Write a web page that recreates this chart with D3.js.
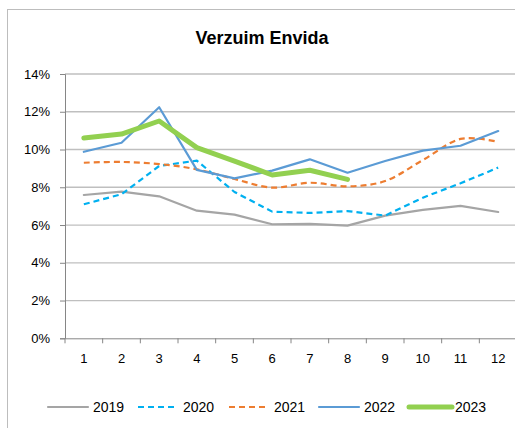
<!DOCTYPE html>
<html>
<head>
<meta charset="utf-8">
<script src="https://cdn.jsdelivr.net/npm/d3@7"></script>
<style>
  body { margin: 0; background: #fff; }
  text { font-family: "Liberation Sans", Arial, sans-serif; fill: #000; }
</style>
</head>
<body>
<svg id="chart" width="515" height="428"></svg>
<script>
// months on the x axis
var months = [1, 2, 3, 4, 5, 6, 7, 8, 9, 10, 11, 12];
var yTicks = [0, 0.02, 0.04, 0.06, 0.08, 0.10, 0.12, 0.14];

var v2019 = [0.0759, 0.0777, 0.0752, 0.0676, 0.0655, 0.0604, 0.0606, 0.0597, 0.0650, 0.0680, 0.0701, 0.0669];
var v2020 = [0.0710, 0.0763, 0.0913, 0.0941, 0.0775, 0.0671, 0.0664, 0.0674, 0.0650, 0.0745, 0.0821, 0.0904];
var v2021 = [0.0930, 0.0934, 0.0923, 0.0895, 0.0844, 0.0798, 0.0824, 0.0805, 0.0833, 0.0944, 0.1056, 0.1040];
var v2022 = [0.0988, 0.1036, 0.1224, 0.0892, 0.0847, 0.0888, 0.0948, 0.0877, 0.0939, 0.0994, 0.1020, 0.1098];
var v2023 = [0.1061, 0.1082, 0.1151, 0.1010, 0.0939, 0.0865, 0.0890, 0.0842];

var seriesNames = ["2019", "2020", "2021", "2022", "2023"];

function Chart() {
    var svg = d3.select("#chart");
    var left = 65, top = 74, right = 517, bottom = 338.3;

    this.x = d3.scaleBand().domain(months).range([left, right]);
    this.y = d3.scaleLinear().domain([0, 0.14]).range([bottom, top]);

    this.drawFrame = function() {
        svg.append("rect")
          .attr("x", 7.5).attr("y", 9.5)
          .attr("width", 600).attr("height", 600)
          .style("fill", "none")
          .style("stroke", "#bdbdbd");

        svg.append("text")
          .attr("x", 262).attr("y", 43.5)
          .attr("text-anchor", "middle")
          .style("font-size", "18px")
          .style("font-weight", "bold")
          .text("Verzuim Envida");
    };

    this.drawAxes = function() {
        var x = this.x, y = this.y;
        var grid = svg.append("g");
        grid.selectAll("line")
          .data(yTicks.slice(1))
          .enter().append("line")
          .attr("x1", left).attr("x2", 515)
          .attr("y1", function(d) { return y(d); })
          .attr("y2", function(d) { return y(d); })
          .style("stroke", "#bfbfbf")
          .style("stroke-width", 1.3);

        var yAxis = svg.append("g")
          .attr("transform", "translate(" + left + ",0)")
          .call(d3.axisLeft(y).tickValues(yTicks).tickSize(5).tickPadding(10)
                .tickFormat(d3.format(".0%")));
        yAxis.select(".domain").style("stroke", "#868686");
        yAxis.selectAll(".tick line").style("stroke", "#868686");
        yAxis.selectAll("text").style("font-size", "13px");

        var xAxis = svg.append("g")
          .attr("transform", "translate(0," + bottom + ")")
          .call(d3.axisBottom(x).tickSize(0).tickPadding(15));
        xAxis.select(".domain").style("stroke", "#868686");
        xAxis.selectAll("text").style("font-size", "13px");

        // tick marks between the categories
        var edges = months.map(function(m) { return x(m); }).concat([right]);
        svg.append("g").selectAll("line")
          .data(edges)
          .enter().append("line")
          .attr("x1", function(d) { return d; })
          .attr("x2", function(d) { return d; })
          .attr("y1", bottom).attr("y2", bottom + 5)
          .style("stroke", "#868686");
    };

    this.addSeries = function(values, color, width, dash, curve) {
        var x = this.x, y = this.y;
        var line = d3.line()
          .x(function(d, i) { return x(months[i]) + x.bandwidth() / 2; })
          .y(function(d) { return y(d); })
          .curve(curve || d3.curveLinear);
        svg.append("path")
          .datum(values)
          .attr("d", line)
          .style("fill", "none")
          .style("stroke", color)
          .style("stroke-width", width)
          .style("stroke-dasharray", dash)
          .style("stroke-linejoin", "round")
          .style("stroke-linecap", dash ? "butt" : "round");
    };

    this.addLegend = function(items) {
        var lx = [48, 138, 229, 319, 409];
        var ly = 407;
        items.forEach(function(it, i) {
            svg.append("line")
              .attr("x1", lx[i]).attr("x2", lx[i] + (i == 4 ? 43 : 40))
              .attr("y1", ly).attr("y2", ly)
              .style("stroke", it.color)
              .style("stroke-width", it.width)
              .style("stroke-dasharray", it.dash)
              .style("stroke-linecap", it.dash ? "butt" : "round");
            svg.append("text")
              .attr("x", lx[i] + (i == 4 ? 46 : 45)).attr("y", ly + 5)
              .style("font-size", "14px")
              .text(it.name);
        });
    };
}

var chart = new Chart();
chart.drawFrame();
chart.drawAxes();

var styles = [
    {name: seriesNames[0], values: v2019, color: "#a5a5a5", width: 2.2, dash: null},
    {name: seriesNames[1], values: v2020, color: "#00b0f0", width: 2.2, dash: "6,4"},
    {name: seriesNames[2], values: v2021, color: "#ed7d31", width: 2.2, dash: "6,4", curve: d3.curveCatmullRom.alpha(0)},
    {name: seriesNames[3], values: v2022, color: "#5b9bd5", width: 2.2, dash: null},
    {name: seriesNames[4], values: v2023, color: "#92d050", width: 5, dash: null}
];
styles.forEach(function(s) {
    chart.addSeries(s.values, s.color, s.width, s.dash, s.curve);
});
chart.addLegend(styles);
</script>
</body>
</html>
